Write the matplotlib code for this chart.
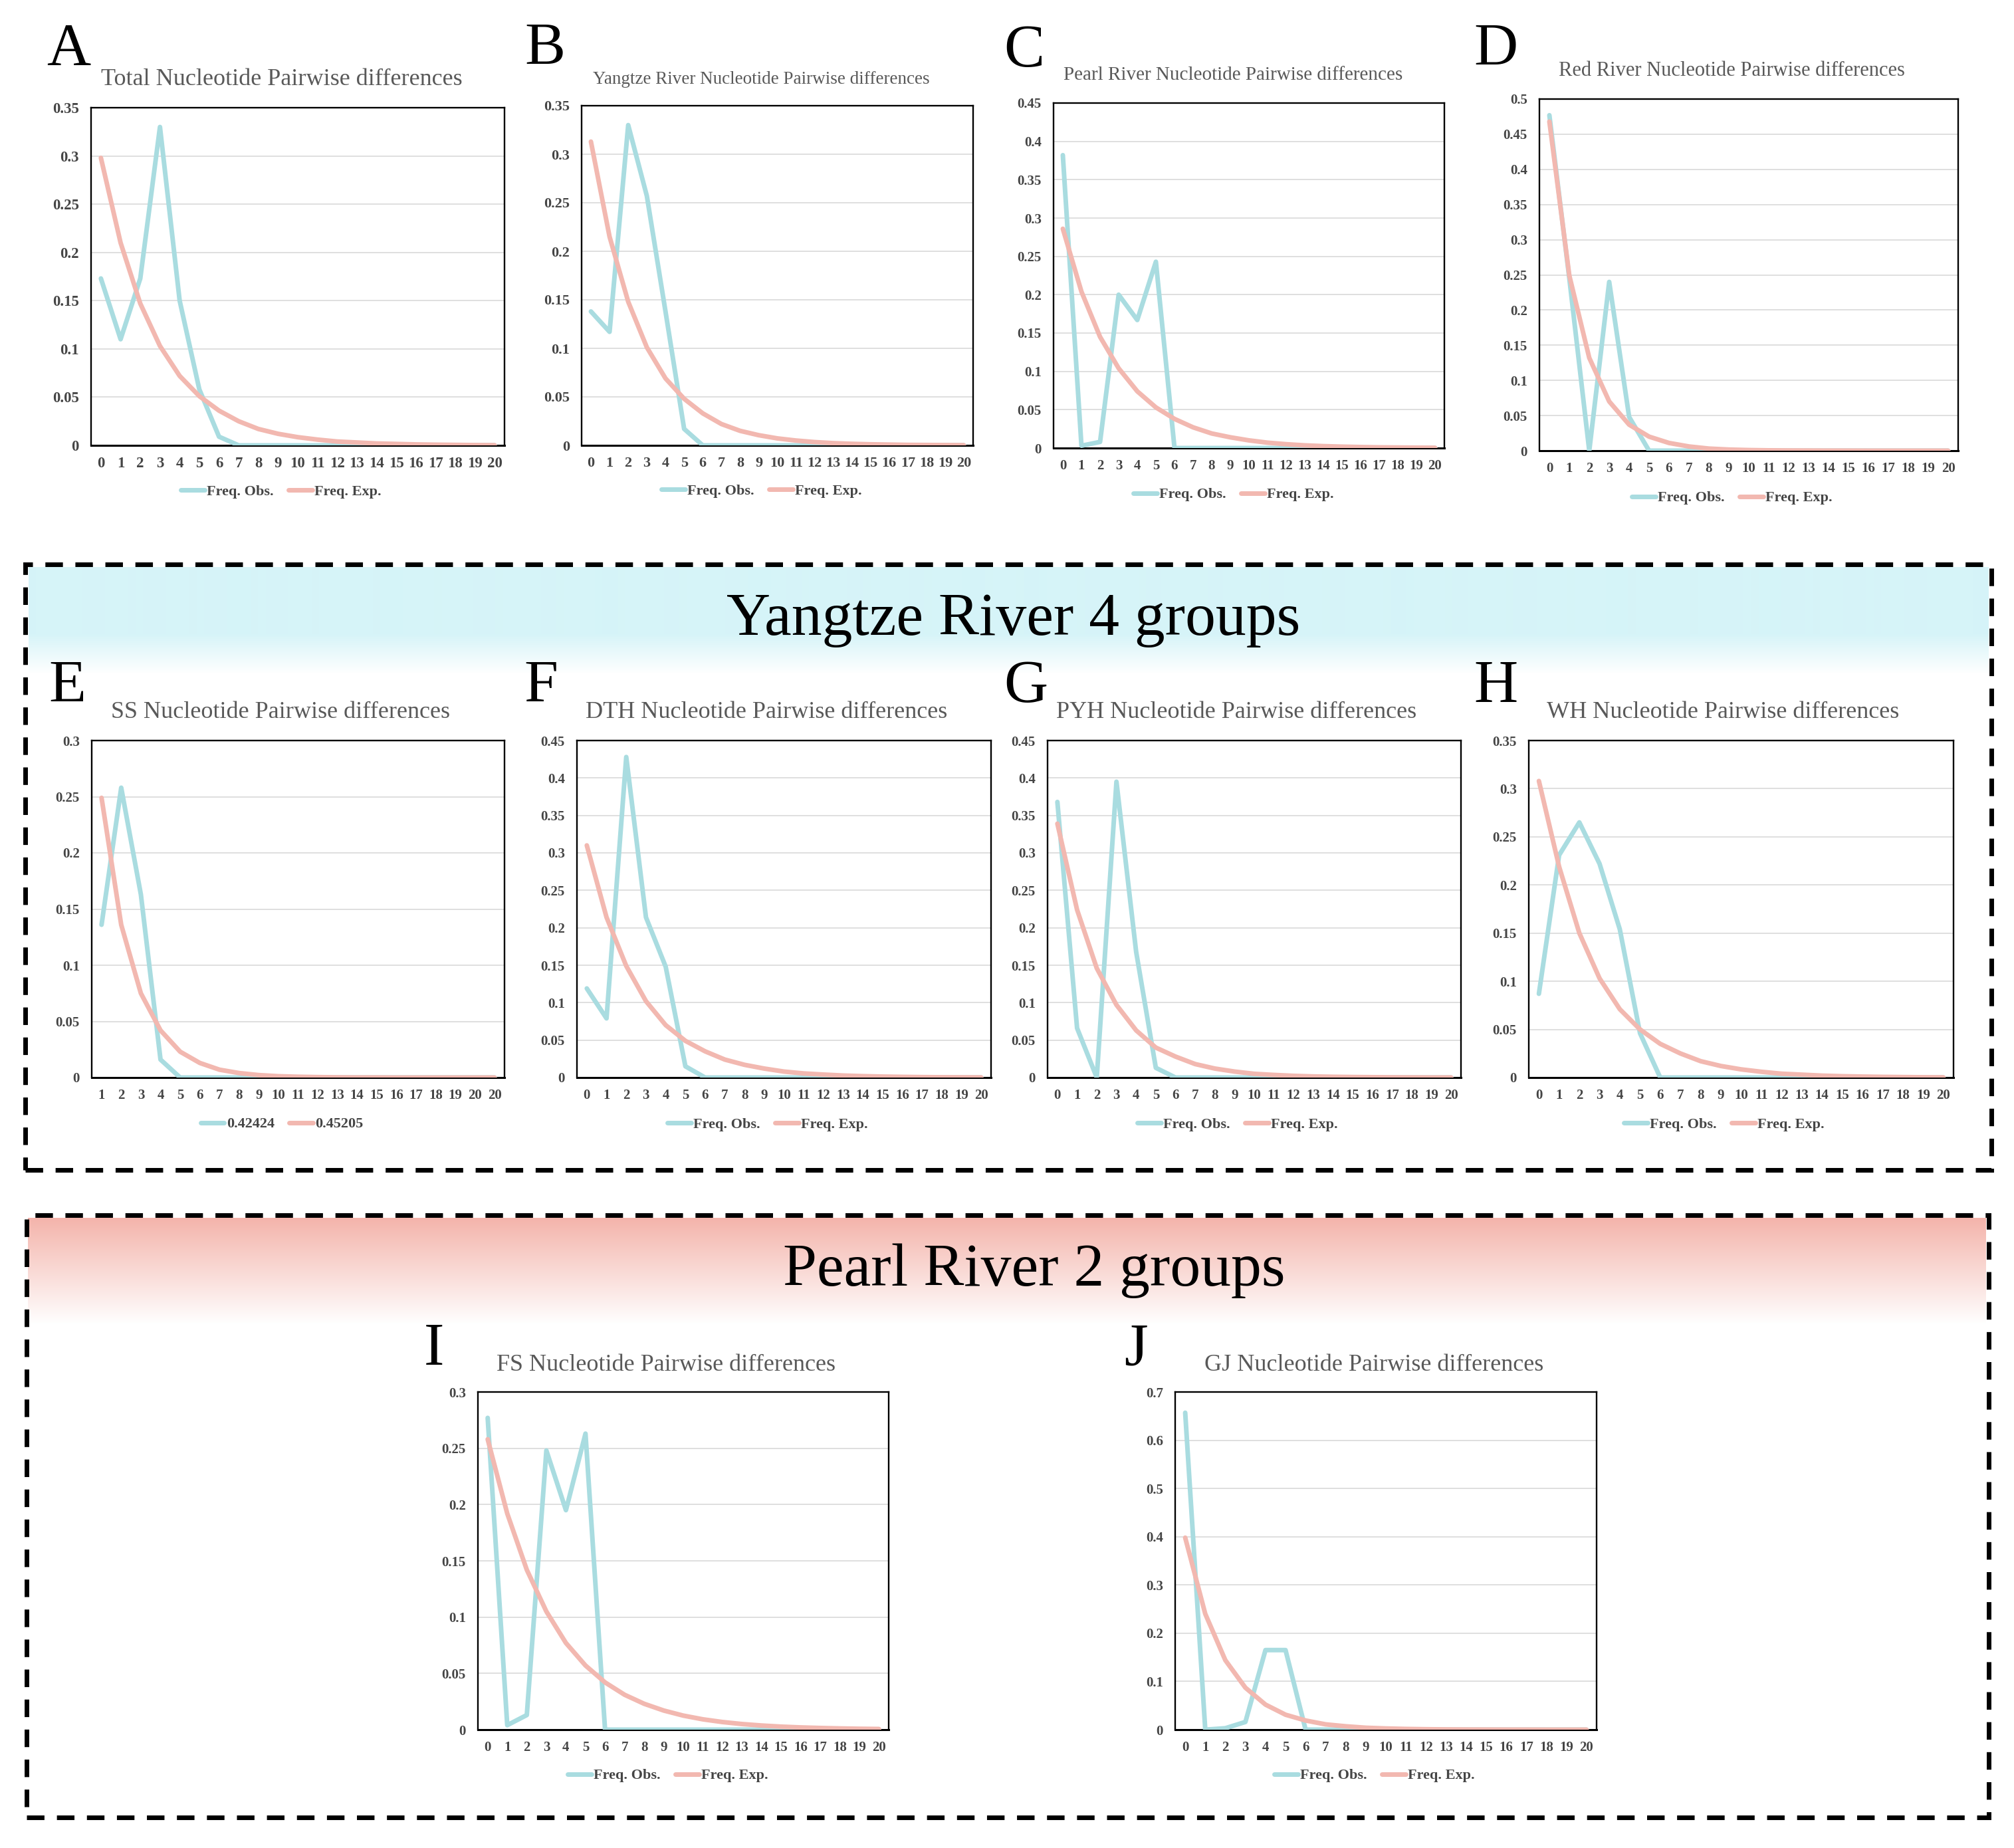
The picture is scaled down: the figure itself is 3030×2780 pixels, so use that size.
import numpy as np
import matplotlib
matplotlib.use('Agg')
import matplotlib.pyplot as plt
from matplotlib.patches import Rectangle
from matplotlib.ticker import FuncFormatter

W, H = 3030, 2780
DPI = 100
plt.rcParams['font.family'] = ['Liberation Serif', 'DejaVu Serif']

TEAL = '#A9DCE0'
PINK = '#F2B8B0'
TITLE_GRAY = '#595959'

# ---------------- data ----------------
x_labels = [str(i) for i in range(21)]
x_labels_ss = [str(i) for i in range(1, 21)] + ['20']

total_obs = [0.173, 0.110, 0.173, 0.330, 0.150, 0.058, 0.009, 0.0, 0, 0, 0, 0, 0, 0, 0, 0, 0, 0, 0, 0, 0]
total_exp = [0.298, 0.210, 0.147, 0.103, 0.072, 0.051, 0.036, 0.025, 0.017, 0.012, 0.0085, 0.006,
             0.004, 0.003, 0.002, 0.0015, 0.001, 0.0007, 0.0005, 0.0003, 0.0002]

yangtze_obs = [0.138, 0.117, 0.330, 0.257, 0.138, 0.017, 0.0, 0, 0, 0, 0, 0, 0, 0, 0, 0, 0, 0, 0, 0, 0]
yangtze_exp = [0.313, 0.215, 0.148, 0.101, 0.069, 0.048, 0.033, 0.022, 0.015, 0.0105, 0.0072, 0.005,
               0.0034, 0.0023, 0.0016, 0.0011, 0.0008, 0.0005, 0.0004, 0.0003, 0.0002]

pearl_obs = [0.382, 0.003, 0.008, 0.200, 0.167, 0.243, 0.0, 0, 0, 0, 0, 0, 0, 0, 0, 0, 0, 0, 0, 0, 0]
pearl_exp = [0.286, 0.204, 0.145, 0.104, 0.074, 0.053, 0.038, 0.027, 0.019, 0.014, 0.010, 0.007,
             0.005, 0.0035, 0.0025, 0.0018, 0.0013, 0.0009, 0.0007, 0.0005, 0.0003]

red_obs = [0.477, 0.245, 0.0, 0.240, 0.048, 0.0, 0, 0, 0, 0, 0, 0, 0, 0, 0, 0, 0, 0, 0, 0, 0]
red_exp = [0.468, 0.249, 0.132, 0.070, 0.037, 0.020, 0.011, 0.006, 0.003, 0.0016, 0.0009, 0.0005,
           0.0003, 0.0002, 0.0001, 0.0001, 0, 0, 0, 0, 0]

ss_obs = [0.136, 0.258, 0.163, 0.016, 0.0, 0, 0, 0, 0, 0, 0, 0, 0, 0, 0, 0, 0, 0, 0, 0, 0]
ss_exp = [0.249, 0.136, 0.075, 0.042, 0.023, 0.013, 0.007, 0.004, 0.0022, 0.0012, 0.0007, 0.0004,
          0.0002, 0.0001, 0.0001, 0, 0, 0, 0, 0, 0]

dth_obs = [0.119, 0.079, 0.428, 0.214, 0.148, 0.015, 0.0, 0, 0, 0, 0, 0, 0, 0, 0, 0, 0, 0, 0, 0, 0]
dth_exp = [0.310, 0.214, 0.149, 0.102, 0.070, 0.049, 0.035, 0.024, 0.017, 0.012, 0.008, 0.0055,
           0.004, 0.0027, 0.0019, 0.0013, 0.0009, 0.0006, 0.0004, 0.0003, 0.0002]

pyh_obs = [0.368, 0.066, 0.0, 0.395, 0.168, 0.013, 0.0, 0, 0, 0, 0, 0, 0, 0, 0, 0, 0, 0, 0, 0, 0]
pyh_exp = [0.339, 0.224, 0.146, 0.097, 0.063, 0.040, 0.028, 0.018, 0.012, 0.008, 0.005, 0.0035,
           0.0023, 0.0015, 0.001, 0.0007, 0.0005, 0.0003, 0.0002, 0.0001, 0.0001]

wh_obs = [0.087, 0.231, 0.265, 0.222, 0.154, 0.046, 0.0, 0, 0, 0, 0, 0, 0, 0, 0, 0, 0, 0, 0, 0, 0]
wh_exp = [0.308, 0.219, 0.150, 0.103, 0.071, 0.050, 0.035, 0.025, 0.017, 0.012, 0.0085, 0.006,
          0.004, 0.003, 0.002, 0.0014, 0.001, 0.0007, 0.0005, 0.0003, 0.0002]

fs_obs = [0.277, 0.004, 0.013, 0.248, 0.195, 0.263, 0.0, 0, 0, 0, 0, 0, 0, 0, 0, 0, 0, 0, 0, 0, 0]
fs_exp = [0.258, 0.192, 0.142, 0.105, 0.077, 0.057, 0.042, 0.031, 0.023, 0.017, 0.0125, 0.0092,
          0.0068, 0.005, 0.0037, 0.0027, 0.002, 0.0015, 0.0011, 0.0008, 0.0006]

gj_obs = [0.657, 0.0, 0.003, 0.016, 0.165, 0.165, 0.0, 0, 0, 0, 0, 0, 0, 0, 0, 0, 0, 0, 0, 0, 0]
gj_exp = [0.398, 0.240, 0.144, 0.087, 0.052, 0.031, 0.019, 0.011, 0.007, 0.004, 0.0025, 0.0015,
          0.0009, 0.0005, 0.0003, 0.0002, 0.0001, 0.0001, 0, 0, 0]

legend_std = ['Freq. Obs.', 'Freq. Exp.']
legend_ss = ['0.42424', '0.45205']

titles = {
    'A': 'Total Nucleotide Pairwise differences',
    'B': 'Yangtze River Nucleotide Pairwise differences',
    'C': 'Pearl River Nucleotide Pairwise differences',
    'D': 'Red River Nucleotide Pairwise differences',
    'E': 'SS Nucleotide Pairwise differences',
    'F': 'DTH Nucleotide Pairwise differences',
    'G': 'PYH Nucleotide Pairwise differences',
    'H': 'WH Nucleotide Pairwise differences',
    'I': 'FS Nucleotide Pairwise differences',
    'J': 'GJ Nucleotide Pairwise differences',
}
banner1 = 'Yangtze River 4 groups'
banner2 = 'Pearl River 2 groups'

# ---------------- layout (pixels) ----------------
# key, box (l,t,r,b), ymax, ystep, title (cx,cy,size), letter (x,baseline), legend (cx,cy), tick size, obs, exp, xlabels, legend labels
panels = [
    ('A', (137, 162, 759, 670), 0.35, 0.05, (424, 119, 26), (70, 98), (423, 740), 16.5, total_obs, total_exp, x_labels, legend_std),
    ('B', (875, 159, 1464, 670), 0.35, 0.05, (1145, 119, 19.5), (789, 97), (1146, 739), 16, yangtze_obs, yangtze_exp, x_labels, legend_std),
    ('C', (1585, 155, 2173, 674), 0.45, 0.05, (1855, 113, 21), (1510, 100), (1856, 744), 15, pearl_obs, pearl_exp, x_labels, legend_std),
    ('D', (2316, 149, 2946, 678), 0.5, 0.05, (2605, 107, 22), (2217, 98), (2606, 749), 15, red_obs, red_exp, x_labels, legend_std),
    ('E', (138, 1114, 759, 1621), 0.3, 0.05, (422, 1071, 26), (73, 1056), (424, 1691), 15, ss_obs, ss_exp, x_labels_ss, legend_ss),
    ('F', (868, 1114, 1491, 1621), 0.45, 0.05, (1153, 1071, 26), (788, 1056), (1155, 1692), 15, dth_obs, dth_exp, x_labels, legend_std),
    ('G', (1576, 1114, 2198, 1621), 0.45, 0.05, (1860, 1071, 26), (1510, 1056), (1862, 1692), 15, pyh_obs, pyh_exp, x_labels, legend_std),
    ('H', (2300, 1114, 2939, 1621), 0.35, 0.05, (2592, 1071, 26), (2217, 1056), (2594, 1692), 15, wh_obs, wh_exp, x_labels, legend_std),
    ('I', (719, 2094, 1337, 2602), 0.3, 0.05, (1002, 2053, 26), (638, 2053), (1005, 2671), 15, fs_obs, fs_exp, x_labels, legend_std),
    ('J', (1768, 2094, 2402, 2602), 0.7, 0.1, (2067, 2053, 26), (1691, 2053), (2068, 2671), 15, gj_obs, gj_exp, x_labels, legend_std),
]

fig = plt.figure(figsize=(W / DPI, H / DPI), dpi=DPI)
fig.patch.set_facecolor('white')


def fx(x):
    return x / W


def fy(y):
    return 1 - y / H


def rect(l, t, r, b):
    return [l / W, 1 - b / H, (r - l) / W, (b - t) / H]


# ---------------- banners ----------------
def hex2rgb(h):
    h = h.lstrip('#')
    return np.array([int(h[i:i + 2], 16) / 255 for i in (0, 2, 4)])


cyan = hex2rgb('#D6F4F8')
n1 = 160
solid = 100
g1 = np.ones((n1, 1, 3))
for i in range(n1):
    t = 0 if i < solid else (i - solid) / (n1 - solid)
    g1[i, 0] = cyan * (1 - t) + np.ones(3) * t
axb1 = fig.add_axes(rect(43, 853, 2992, 853 + n1), zorder=-2)
axb1.imshow(g1, aspect='auto', interpolation='bilinear')
axb1.axis('off')

pinkb = hex2rgb('#F4B4AB')
n2 = 160
g2 = np.ones((n2, 1, 3))
for i in range(n2):
    t = i / (n2 - 1)
    g2[i, 0] = pinkb * (1 - t) + np.ones(3) * t
axb2 = fig.add_axes(rect(42, 1832, 2988, 1832 + n2), zorder=-2)
axb2.imshow(g2, aspect='auto', interpolation='bilinear')
axb2.axis('off')

fig.text(fx(1525), fy(955), banner1, fontsize=66, ha='center', va='baseline', color='black')
fig.text(fx(1556), fy(1934), banner2, fontsize=66, ha='center', va='baseline', color='black')

# dashed boxes
for (l, t, r, b) in [(38, 849, 2996, 1760), (40, 1828, 2992, 2734)]:
    fig.patches.append(Rectangle((fx(l), fy(b)), (r - l) / W, (b - t) / H,
                                 transform=fig.transFigure, fill=False,
                                 ec='black', lw=5, ls=(0, (3.8, 2.7)), zorder=5))

# ---------------- panels ----------------
fmt = FuncFormatter(lambda v, p: ('%g' % round(v, 4)))

for (key, box, ymax, ystep, ttl, let, leg, tsize, obs, exp, xl, legl) in panels:
    ax = fig.add_axes(rect(*box))
    x = np.arange(len(obs))
    l1, = ax.plot(x, obs, color=TEAL, lw=5, solid_joinstyle='round', solid_capstyle='round', zorder=3)
    l2, = ax.plot(x, exp, color=PINK, lw=5, solid_joinstyle='round', solid_capstyle='round', zorder=4)
    ax.set_xlim(-0.5, len(obs) - 0.5)
    ax.set_ylim(0, ymax)
    ax.set_xticks(x)
    ax.set_xticklabels(xl)
    yt = np.round(np.arange(0, ymax + ystep / 2, ystep), 4)
    ax.set_yticks(yt)
    ax.yaxis.set_major_formatter(fmt)
    tick_font = dict(family='Liberation Serif', weight='bold', size=tsize)
    for lab in ax.get_xticklabels() + ax.get_yticklabels():
        lab.set_fontproperties(tick_font)
        lab.set_color('#454545')
    ax.tick_params(axis='x', length=0, pad=12)
    ax.tick_params(axis='y', length=0, pad=13)
    ax.grid(axis='y', color='#D9D9D9', lw=1.2, zorder=0)
    ax.set_axisbelow(True)
    for s in ax.spines.values():
        s.set_color('black')
        s.set_linewidth(1.7)
    ax.spines['bottom'].set_linewidth(2.2)

    fig.text(fx(ttl[0]), fy(ttl[1]), titles[key], fontsize=ttl[2], ha='center', va='center', color=TITLE_GRAY)
    fig.text(fx(let[0]), fy(let[1]), key, fontsize=66, ha='left', va='baseline', color='black')
    ax.legend([l1, l2], legl, loc='center', bbox_to_anchor=(fx(leg[0]), fy(leg[1])),
              bbox_transform=fig.transFigure, ncol=2, frameon=False,
              prop=dict(family='Liberation Serif', weight='bold', size=16),
              handlelength=1.6, handletextpad=0.15, columnspacing=1.0, borderpad=0,
              labelcolor='#454545')

fig.savefig('out.png', dpi=DPI, facecolor='white')
